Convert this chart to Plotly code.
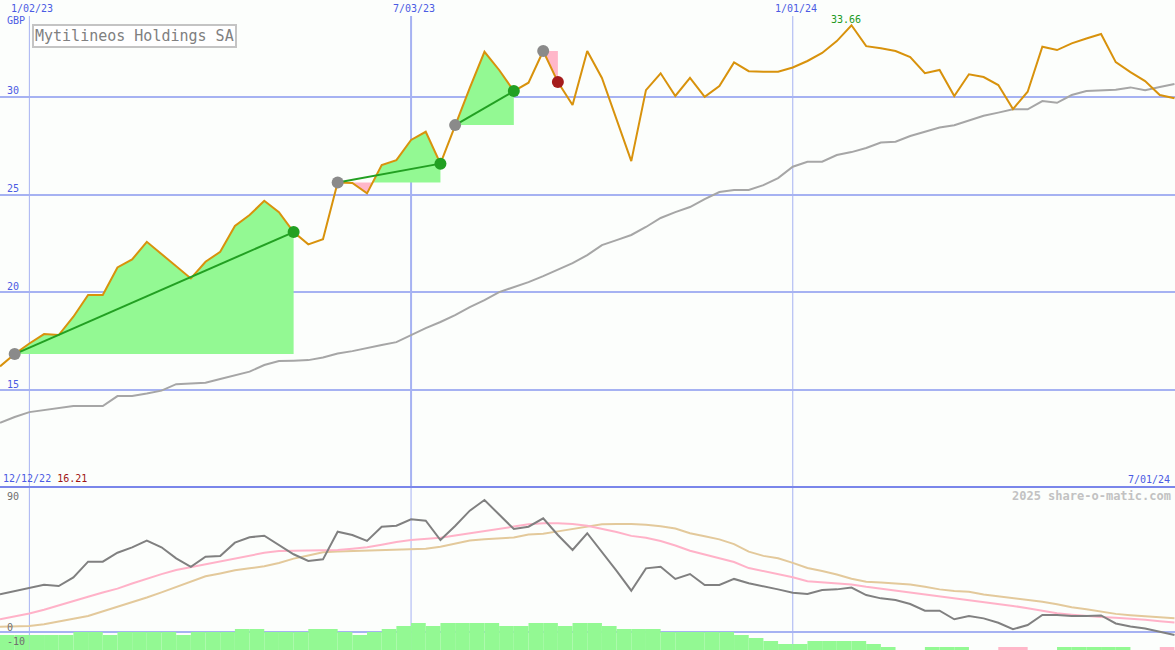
import plotly.graph_objects as go
import pandas as pd

# ---------------- data ----------------
dates = pd.date_range("2022-12-19", periods=81, freq="7D")

price = [16.21, 16.84, 17.38, 17.86, 17.81, 18.75, 19.86, 19.86, 21.27, 21.68,
         22.58, 21.95, 21.29, 20.71, 21.56, 22.07, 23.39, 23.95, 24.68, 24.10,
         23.08, 22.45, 22.71, 25.62, 25.59, 25.06, 26.51, 26.76, 27.79, 28.21,
         26.58, 28.55, 30.45, 32.30, 31.37, 30.29, 30.72, 32.34, 30.75, 29.58,
         32.34, 30.96, 28.81, 26.71, 30.34, 31.20, 30.04, 30.97, 30.00, 30.55,
         31.76, 31.31, 31.28, 31.28, 31.50, 31.83, 32.24, 32.85, 33.66, 32.59,
         32.48, 32.34, 32.03, 31.21, 31.37, 30.04, 31.15, 31.01, 30.60, 29.37,
         30.26, 32.56, 32.39, 32.73, 32.98, 33.21, 31.77, 31.26, 30.80, 30.09,
         29.92]

ma_slow = [13.32, 13.62, 13.87, 13.97, 14.08, 14.18, 14.18, 14.18, 14.69, 14.69,
           14.82, 14.97, 15.30, 15.33, 15.37, 15.56, 15.74, 15.94, 16.28, 16.48,
           16.50, 16.53, 16.66, 16.87, 16.99, 17.13, 17.30, 17.45, 17.81, 18.17,
           18.48, 18.83, 19.24, 19.60, 20.01, 20.27, 20.52, 20.83, 21.14, 21.49,
           21.90, 22.41, 22.67, 22.93, 23.34, 23.80, 24.10, 24.36, 24.77, 25.13,
           25.23, 25.23, 25.48, 25.84, 26.42, 26.68, 26.68, 27.02, 27.17, 27.38,
           27.66, 27.70, 27.99, 28.22, 28.43, 28.54, 28.78, 29.03, 29.19, 29.36,
           29.36, 29.78, 29.69, 30.09, 30.29, 30.33, 30.36, 30.48, 30.34, 30.50,
           30.65]

osc = [26.0, 28.3, 30.3, 32.6, 31.7, 37.7, 48.5, 48.5, 54.7, 58.4,
       63.0, 58.4, 50.8, 45.0, 51.9, 52.4, 61.6, 65.3, 66.4, 60.0,
       53.6, 49.0, 50.1, 69.2, 66.9, 62.8, 72.6, 73.3, 77.7, 76.8,
       63.4, 73.1, 83.7, 91.0, 80.7, 71.0, 72.6, 78.4, 66.9, 56.6,
       68.1, 55.2, 42.1, 28.5, 43.9, 45.0, 36.6, 40.0, 32.4, 32.4,
       36.6, 33.6, 31.7, 29.4, 27.1, 26.2, 29.0, 29.4, 30.6, 25.5,
       23.2, 22.1, 19.3, 14.7, 14.7, 8.8, 11.0, 9.4, 6.4, 1.9,
       4.8, 11.7, 11.7, 11.0, 11.0, 11.4, 5.9, 3.8, 2.4, 0.3,
       -2.1]

osc_fast = [8.8, 10.8, 12.8, 15.4, 18.2, 21.2, 24.3, 27.2, 29.9, 33.4,
            36.9, 39.9, 42.8, 44.8, 46.8, 48.9, 51.0, 52.9, 54.6, 55.9,
            56.0, 56.1, 56.3, 56.6, 57.5, 58.4, 60.2, 62.1, 63.4, 64.3,
            65.0, 66.6, 68.0, 69.4, 70.8, 72.7, 74.3, 75.0, 75.0, 74.5,
            73.3, 71.4, 69.0, 66.3, 65.0, 62.8, 59.7, 56.0, 53.4, 50.9,
            48.3, 44.1, 42.1, 40.1, 37.8, 35.0, 34.3, 33.8, 32.8, 31.2,
            29.9, 28.7, 27.5, 26.2, 24.9, 23.5, 22.1, 20.9, 19.6, 18.0,
            16.4, 14.6, 12.9, 11.9, 11.0, 10.3, 9.8, 9.3, 8.4, 7.5,
            6.5]

osc_slow = [3.7, 3.9, 4.1, 5.3, 7.0, 9.2, 11.0, 14.1, 17.3, 20.6,
            23.8, 27.3, 30.9, 34.6, 38.4, 40.4, 42.6, 43.9, 45.4, 47.6,
            50.6, 52.8, 55.0, 55.5, 55.8, 55.9, 56.1, 56.3, 56.6, 57.4,
            58.8, 60.8, 63.1, 63.9, 64.6, 65.2, 67.3, 67.8, 69.4, 71.1,
            72.7, 74.3, 74.5, 74.5, 73.9, 73.0, 71.4, 68.1, 66.0, 63.9,
            60.6, 55.4, 52.5, 50.8, 47.7, 44.2, 42.1, 39.7, 36.7, 34.6,
            34.1, 33.6, 32.8, 31.2, 29.4, 28.3, 27.7, 25.9, 24.6, 23.7,
            22.3, 20.8, 19.1, 17.1, 15.7, 13.9, 12.5, 11.6, 11.0, 10.4,
            9.5]

# weekly histogram levels (negative = pink)
hist = [5, 5, 5, 5, 5, 6, 6, 5, 6, 6, 6, 6, 5, 6, 6, 6, 7, 7, 6, 6,
        6, 7, 7, 6, 5, 6, 7, 8, 9, 8, 9, 9, 9, 9, 8, 8, 9, 9, 8, 9,
        9, 8, 7, 7, 7, 6, 6, 6, 6, 6, 5, 4, 3, 2, 2, 3, 3, 3, 3, 2,
        1, 0, 0, 1, 1, 1, 0, 0, -1, -1, 0, 0, 1, 1, 1, 1, 1, 0, 0, -1]

# trades: (entry index, exit index)
trades = [(1, 20), (23, 30), (31, 35), (37, 38)]

title = "Mytilineos Holdings SA"
currency = "GBP"
price_ticks = [15, 20, 25, 30]
osc_ticks = [90, 0, -10]
date_ticks = ["2023-01-02", "2023-07-03", "2024-01-01"]
date_tick_labels = ["1/02/23", "7/03/23", "1/01/24"]
start_label = "12/12/22"
end_label = "7/01/24"
watermark = "2025 share-o-matic.com"

# ---------------- style ----------------
W, H = 1175, 650
SPLIT = 163 / H
BG = "#FCFEFC"
GRID = "#A6B2F2"
SEP = "#7A86EA"
BLUE_TXT = "#4B5BE3"
GREEN_FILL = "#93F993"
PINK_FILL = "#FFB7C9"
FONT = "DejaVu Sans Mono"

fig = go.Figure()

ms = [d.value / 1e6 for d in dates]


def to_dt(v):
    return pd.to_datetime(v, unit="ms")


# trade fills
for a, b in trades:
    e = price[a]
    pts = []
    for i in range(a, b + 1):
        if i > a:
            y0, y1 = price[i - 1], price[i]
            if (y0 - e) * (y1 - e) < 0:
                t = (e - y0) / (y1 - y0)
                pts.append((ms[i - 1] + t * (ms[i] - ms[i - 1]), e))
        pts.append((ms[i], price[i]))
    up = [(x, max(y, e)) for x, y in pts] + [(ms[b], e), (ms[a], e)]
    dn = [(x, min(y, e)) for x, y in pts] + [(ms[b], e), (ms[a], e)]
    for poly, col in ((up, GREEN_FILL), (dn, PINK_FILL)):
        fig.add_trace(go.Scatter(
            x=[to_dt(p[0]) for p in poly], y=[p[1] for p in poly],
            mode="lines", fill="toself", fillcolor=col,
            line=dict(width=0, color=col), hoverinfo="skip",
            showlegend=False, xaxis="x", yaxis="y"))

# slow moving average
fig.add_trace(go.Scatter(x=dates, y=ma_slow, mode="lines",
                         line=dict(color="#A6A6A6", width=2),
                         showlegend=False, xaxis="x", yaxis="y"))
# price
fig.add_trace(go.Scatter(x=dates, y=price, mode="lines",
                         line=dict(color="#D8920C", width=2),
                         showlegend=False, xaxis="x", yaxis="y"))

# trade lines and markers
for a, b in trades:
    win = price[b] > price[a]
    if win:
        fig.add_trace(go.Scatter(x=[dates[a], dates[b]], y=[price[a], price[b]],
                                 mode="lines", line=dict(color="#22A022", width=2),
                                 showlegend=False, xaxis="x", yaxis="y"))
    fig.add_trace(go.Scatter(x=[dates[a]], y=[price[a]], mode="markers",
                             marker=dict(color="#8A8A8A", size=12),
                             showlegend=False, xaxis="x", yaxis="y"))
    fig.add_trace(go.Scatter(x=[dates[b]], y=[price[b]], mode="markers",
                             marker=dict(color="#22A022" if win else "#A51C1C", size=12),
                             showlegend=False, xaxis="x", yaxis="y"))

# lower panel lines
fig.add_trace(go.Scatter(x=dates, y=osc_slow, mode="lines",
                         line=dict(color="#E3C99B", width=2),
                         showlegend=False, xaxis="x2", yaxis="y2"))
fig.add_trace(go.Scatter(x=dates, y=osc_fast, mode="lines",
                         line=dict(color="#FFB2C8", width=2),
                         showlegend=False, xaxis="x2", yaxis="y2"))
fig.add_trace(go.Scatter(x=dates, y=osc, mode="lines",
                         line=dict(color="#808080", width=2),
                         showlegend=False, xaxis="x2", yaxis="y2"))

# histogram
fig.add_trace(go.Bar(x=dates[:len(hist)], y=[abs(v) for v in hist],
                     width=7 * 86400000, offset=0,
                     marker=dict(color=[GREEN_FILL if v > 0 else PINK_FILL for v in hist],
                                 line=dict(width=0)),
                     showlegend=False, xaxis="x2", yaxis="y3"))

# ---------------- layout ----------------
x_range = [dates[0], dates[-1] + pd.Timedelta(hours=6)]
fig.update_layout(
    width=W, height=H, autosize=False,
    margin=dict(l=0, r=0, t=0, b=0),
    paper_bgcolor=BG, plot_bgcolor=BG,
    showlegend=False,
    xaxis=dict(type="date", range=x_range, domain=[0, 1], anchor="y",
               visible=False, showgrid=False),
    yaxis=dict(domain=[SPLIT, 1], range=[10.04, 34.95], anchor="x",
               tickvals=price_ticks, showticklabels=False, ticks="",
               showgrid=True, gridcolor=GRID, gridwidth=2, zeroline=False,
               showline=False),
    xaxis2=dict(type="date", range=x_range, domain=[0, 1], anchor="y2",
                matches="x", visible=False, showgrid=False),
    yaxis2=dict(domain=[0, SPLIT], range=[-12.41, 100], anchor="x2",
                tickvals=[0], showticklabels=False, ticks="",
                showgrid=True, gridcolor=GRID, gridwidth=2, zeroline=False,
                showline=False),
    yaxis3=dict(overlaying="y2", range=[0, 163 / 3], visible=False,
                showgrid=False, zeroline=False),
)

shapes = []
for d, wdt in zip(date_ticks, [1, 2, 1]):
    shapes.append(dict(type="line", xref="x", yref="paper", x0=d, x1=d,
                       y0=SPLIT, y1=1 - 16 / H, layer="below",
                       line=dict(color=GRID, width=wdt)))
    shapes.append(dict(type="line", xref="x", yref="paper", x0=d, x1=d,
                       y0=0, y1=SPLIT, layer="below",
                       line=dict(color=GRID, width=1)))
shapes.append(dict(type="line", xref="paper", yref="paper", x0=0, x1=1,
                   y0=SPLIT, y1=SPLIT, layer="above",
                   line=dict(color=SEP, width=2)))
fig.update_layout(shapes=shapes)

ann = []
for d, lab in zip(date_ticks, date_tick_labels):
    ann.append(dict(x=d, xref="x", y=1 - 9 / H, yref="paper", text=lab,
                    showarrow=False, xanchor="center", yanchor="middle",
                    xshift=3, font=dict(family=FONT, size=10, color=BLUE_TXT)))
ann.append(dict(x=5 / W, xref="paper", y=1 - 21 / H, yref="paper", text=currency,
                showarrow=False, xanchor="left", yanchor="middle",
                font=dict(family=FONT, size=10, color=BLUE_TXT)))
for v in price_ticks:
    ann.append(dict(x=5 / W, xref="paper", y=v, yref="y", text=str(v),
                    showarrow=False, xanchor="left", yanchor="middle", yshift=6,
                    font=dict(family=FONT, size=10, color=BLUE_TXT)))
for v in osc_ticks:
    ann.append(dict(x=5 / W, xref="paper", y=v, yref="y2", text=str(v),
                    showarrow=False, xanchor="left", yanchor="middle", yshift=5,
                    font=dict(family=FONT, size=10, color="#707070")))
ann.append(dict(x=32 / W, xref="paper", y=1 - 24 / H, yref="paper", text=title,
                showarrow=False, xanchor="left", yanchor="top",
                bgcolor="#FFFFFF", bordercolor="#C4C4C4", borderwidth=2, borderpad=1,
                font=dict(family=FONT, size=15, color="#808080")))
imax = price.index(max(price))
ann.append(dict(x=dates[imax], xref="x", y=price[imax], yref="y",
                text=f"{price[imax]:.2f}", showarrow=False, xanchor="center",
                yanchor="middle", yshift=6, xshift=-5,
                font=dict(family=FONT, size=10, color="#229922")))
ann.append(dict(x=1 / W, xref="paper", y=(H - 478.5) / H, yref="paper",
                text=f"<span style='color:{BLUE_TXT}'>{start_label}</span> "
                     f"<span style='color:#A01414'>{price[0]:.2f}</span>",
                showarrow=False, xanchor="left", yanchor="middle",
                font=dict(family=FONT, size=10, color=BLUE_TXT)))
ann.append(dict(x=1172 / W, xref="paper", y=(H - 479) / H, yref="paper",
                text=end_label, showarrow=False, xanchor="right", yanchor="middle",
                font=dict(family=FONT, size=10, color=BLUE_TXT)))
ann.append(dict(x=1173 / W, xref="paper", y=(H - 495.5) / H, yref="paper",
                text=f"<b>{watermark}</b>", showarrow=False, xanchor="right",
                yanchor="middle", font=dict(family=FONT, size=12, color="#C2C2C2")))
fig.update_layout(annotations=ann)

fig.write_html(
    "out.html",
    config={"displayModeBar": False},
    post_script="document.body.style.margin='0';document.body.style.padding='0';"
                "document.body.style.overflow='hidden';"
                f"document.body.style.background='{BG}';",
)
